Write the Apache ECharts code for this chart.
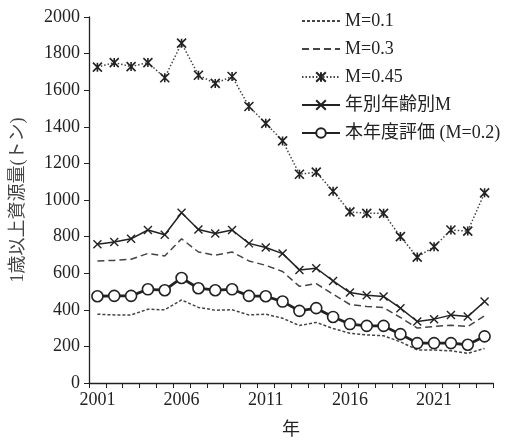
<!DOCTYPE html>
<html>
<head>
<meta charset="utf-8">
<script src="https://cdn.jsdelivr.net/npm/echarts@6/dist/echarts.min.js"></script>
<style>
  html, body { margin: 0; padding: 0; background: #fff; }
  #chart { width: 505px; height: 444px; }
</style>
</head>
<body>
<div id="chart"></div>
<script>
var years = [];
for (var y = 2001; y <= 2024; y++) years.push(String(y));

var m01 = [376, 372, 372, 403, 400, 454, 413, 398, 400, 372, 376, 354, 314, 331, 298, 272, 263, 258, 225, 181, 180, 176, 162, 189];
var m03 = [667, 670, 676, 708, 694, 788, 716, 698, 716, 667, 643, 609, 528, 543, 485, 429, 418, 412, 358, 300, 309, 316, 309, 367];
var m045 = [1726, 1751, 1729, 1751, 1668, 1857, 1682, 1637, 1675, 1511, 1419, 1323, 1141, 1152, 1048, 935, 927, 927, 800, 688, 745, 836, 830, 1039];
var mAge = [758, 770, 788, 836, 810, 930, 839, 817, 836, 763, 740, 707, 618, 627, 558, 494, 480, 473, 409, 336, 349, 371, 363, 445];
var mBase = [474, 476, 476, 512, 507, 574, 518, 507, 512, 476, 474, 445, 394, 409, 361, 322, 312, 312, 267, 218, 218, 218, 209, 255];

var ink = '#222';
var serif = "'Liberation Serif', 'Noto Sans CJK JP', serif";
var crossPath = 'path://M0,0L10,10M10,0L0,10';
var starPath = 'path://M0,0L10,10M10,0L0,10M5,0L5,10';
var clear = 'rgba(0,0,0,0)';

var chart = echarts.init(document.getElementById('chart'));
chart.setOption({
    animation: false,
    textStyle: { fontFamily: serif, color: ink },
    grid: { left: 89, right: 12, top: 17, bottom: 60 },
    legend: {
        orient: 'vertical',
        left: 296,
        top: 7,
        itemWidth: 38,
        itemHeight: 12,
        itemGap: 10,
        textStyle: { fontFamily: serif, fontSize: 18, color: ink },
        data: ['M=0.1', 'M=0.3', 'M=0.45', '年別年齢別M', '本年度評価 (M=0.2)']
    },
    xAxis: {
        type: 'category',
        data: years,
        boundaryGap: true,
        name: '年',
        nameLocation: 'middle',
        nameGap: 38,
        nameTextStyle: { fontSize: 18, color: ink, fontFamily: serif },
        axisLine: { lineStyle: { color: ink, width: 1.3 } },
        axisTick: { show: true, interval: 0, length: 5, lineStyle: { color: ink } },
        axisLabel: { interval: 4, fontSize: 18, color: ink, margin: 8 },
        splitLine: { show: false }
    },
    yAxis: {
        type: 'value',
        min: 0,
        max: 2000,
        interval: 200,
        name: '1歳以上資源量(トン)',
        nameLocation: 'middle',
        nameGap: 62,
        nameTextStyle: { fontSize: 18, color: '#444', fontFamily: serif },
        axisLine: { show: true, lineStyle: { color: ink, width: 1.3 } },
        axisTick: { show: true, length: 5, lineStyle: { color: ink } },
        axisLabel: { fontSize: 18, color: ink, margin: 9, formatter: function (v) { return String(v); } },
        splitLine: { show: false }
    },
    series: [
        {
            name: 'M=0.1', type: 'line', data: m01,
            symbol: 'none',
            lineStyle: { color: '#444', width: 1.5, type: [3, 2] },
            itemStyle: { color: clear, borderColor: clear, borderWidth: 0 }
        },
        {
            name: 'M=0.3', type: 'line', data: m03,
            symbol: 'none',
            lineStyle: { color: '#444', width: 1.5, type: [7, 4] },
            itemStyle: { color: clear, borderColor: clear, borderWidth: 0 }
        },
        {
            name: 'M=0.45', type: 'line', data: m045,
            symbol: starPath, symbolSize: 9, showAllSymbol: true,
            lineStyle: { color: '#444', width: 1.5, type: [1.5, 2] },
            itemStyle: { color: ink, borderColor: ink, borderWidth: 1.6 }
        },
        {
            name: '年別年齢別M', type: 'line', data: mAge,
            symbol: crossPath, symbolSize: 8, showAllSymbol: true,
            lineStyle: { color: ink, width: 1.5 },
            itemStyle: { color: ink, borderColor: ink, borderWidth: 1.4 }
        },
        {
            name: '本年度評価 (M=0.2)', type: 'line', data: mBase,
            symbol: 'circle', symbolSize: 11, showAllSymbol: true,
            lineStyle: { color: ink, width: 2.8 },
            itemStyle: { color: '#fff', borderColor: ink, borderWidth: 1.6 }
        }
    ]
});
</script>
</body>
</html>
